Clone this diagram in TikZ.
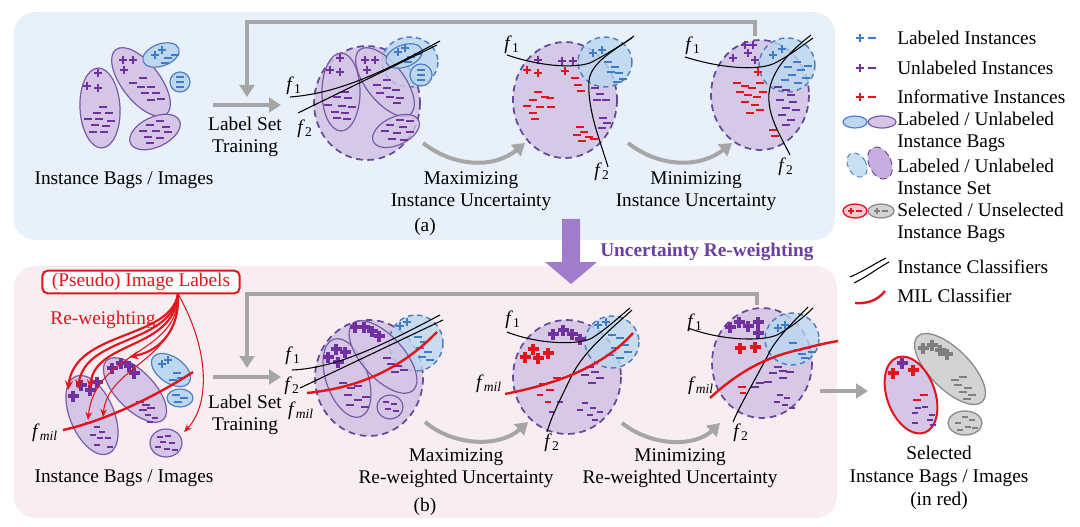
\documentclass[tikz,border=0pt]{standalone}
\usepackage{fontspec}
\setmainfont{Liberation Serif}
\usetikzlibrary{arrows.meta}
\definecolor{panelblue}{HTML}{E8F1F9}
\definecolor{panelpink}{HTML}{F8EEF1}
\definecolor{bagfill}{HTML}{D5C5E6}
\definecolor{bagline}{HTML}{7A5AA8}
\definecolor{ppl}{HTML}{7030A0}
\definecolor{bpl}{HTML}{3E7CC8}
\definecolor{bfill}{HTML}{BCD7EF}
\definecolor{bline}{HTML}{4F7FC4}
\definecolor{rpl}{HTML}{E3141C}
\definecolor{setfill}{HTML}{CFC0E2}
\definecolor{setline}{HTML}{65489A}
\definecolor{arrgray}{HTML}{A6A6A6}
\definecolor{ttl}{HTML}{6B3FA0}
\definecolor{bigarr}{HTML}{A07DCC}
\definecolor{gbag}{HTML}{D3D3D3}
\definecolor{gline}{HTML}{8C8C8C}
\definecolor{gpl}{HTML}{7F7F7F}
\definecolor{selpink}{HTML}{F4C9D2}
\definecolor{legpur}{HTML}{B89BD8}
\newcommand\Pts[3]{\foreach \x/\y in {#3}{\pic[color=#1] at (\x,\y) {#2};}}
\newcommand\fsub[1]{\textit{f}\textsubscript{#1}}
\begin{document}
\begin{tikzpicture}[x=0.75pt,y=-0.75pt,
  txt/.style={font=\fontsize{14.5}{16.5}\selectfont, align=center, inner sep=0pt},
  bagP/.style={fill=bagfill, draw=bagline, line width=0.9pt},
  bagPi/.style={fill=bagfill, fill opacity=0.75, draw=bagline, line width=0.9pt},
  bagB/.style={fill=bfill, draw=bline, line width=0.9pt},
  setP/.style={fill=setfill, fill opacity=0.8, draw=setline, line width=1.3pt, dash pattern=on 5pt off 3.5pt},
  setB/.style={fill=bfill, fill opacity=0.8, draw=bline, line width=1.1pt, dash pattern=on 4pt off 3pt},
  garrow/.style={draw=arrgray, line width=3pt, -{Triangle[length=9pt,width=11pt]}},
  clf/.style={draw=black, line width=0.8pt},
  mil/.style={draw=rpl, line width=1.8pt},
  ra/.style={draw=rpl, line width=1.6pt, -{Stealth[length=7pt,width=6pt]}},
  rb/.style={draw=rpl, line width=0.8pt, -{Stealth[length=6pt,width=5pt]}},
  pics/P/.style={code={\draw[line width=1.8pt] (-4,0)--(4,0) (0,-4)--(0,4);}},
  pics/M/.style={code={\draw[line width=1.8pt] (-4,0)--(4,0);}},
  pics/BP/.style={code={\draw[line width=3pt] (-5.5,0)--(5.5,0) (0,-5.5)--(0,5.5);}},
  pics/SM/.style={code={\draw[line width=1.1pt] (-3.2,0)--(3.2,0);}},
  pics/SP/.style={code={\draw[line width=0.9pt] (-3,0)--(3,0) (0,-3)--(0,3);}},
]
\useasboundingbox (0,0) rectangle (1080,527);
% panels
\fill[panelblue, rounded corners=16pt] (14,12) rectangle (835,240);
\fill[panelpink, rounded corners=16pt] (14,266) rectangle (837,518);

% ================= TOP ROW =================
\coordinate (fbA) at (755,36);
\coordinate (fbB) at (247,97);
\draw[garrow] (fbA) -- (755,22) -| (fbB);
\coordinate (trA) at (213,105);
\coordinate (trB) at (281,105);
\draw[garrow] (trA) -- (trB);
\node[txt] (lst1) at (245,137) {Label Set\\Training};
\node[txt] (ib1) at (124,180) {Instance Bags / Images};
\node[txt] (max1) at (471,191) {Maximizing\\Instance Uncertainty};
\node[txt] (min1) at (696,191) {Minimizing\\Instance Uncertainty};
\node[txt] (lab) at (425,227) {(a)};

% top-left bags
\draw[bagP, rotate around={3:(100,108)}] (100,108) ellipse [x radius=20, y radius=40];
\draw[bagP, rotate around={-52:(141,82)}] (141,82) ellipse [x radius=41, y radius=19];
\draw[bagB, rotate around={20:(161,55)}] (161,55) ellipse [x radius=19, y radius=11];
\draw[bagB] (180,82) circle [radius=10];
\draw[bagP, rotate around={25:(155,132)}] (155,132) ellipse [x radius=27, y radius=15];
\Pts{ppl}{P}{98/73,87/86,98/88}
\Pts{ppl}{M}{103/107,97/113,109/113,88/119,99/119,111/121,95/125,106/126,93/132,104/132}
\Pts{ppl}{P}{123/60,133/60,124/70}
\Pts{ppl}{M}{143/78,133/83,141/87,151/87,145/93,156/93,161/99,151/100}
\Pts{bpl}{P}{155/55,162/50}
\Pts{bpl}{M}{168/58,175/55,165/63}
\Pts{bpl}{M}{180/77,180/82,180/87}
\Pts{ppl}{M}{160/121,150/125,166/127,143/131,156/131,168/132,148/137,160/138,150/143}

% stage 1 top
\draw[setP] (367,103) ellipse [x radius=53, y radius=57];
\draw[setB] (410,62) ellipse [x radius=28, y radius=25];
\draw[bagPi] (341,92) ellipse [x radius=19, y radius=39];
\draw[bagPi, rotate around={-52:(385,82)}] (385,82) ellipse [x radius=41, y radius=19];
\draw[bagPi, rotate around={25:(396,131)}] (396,131) ellipse [x radius=25, y radius=14];
\draw[bagB, fill opacity=0.8, rotate around={20:(404,56)}] (404,56) ellipse [x radius=19, y radius=11];
\draw[bagB, fill opacity=0.8] (421,75) circle [radius=11];
\Pts{ppl}{P}{340/58,330/70,340/72}
\Pts{ppl}{M}{345/92,337/97,348/98,328/105,342/106,352/107,335/112,345/113,337/118,347/119}
\Pts{ppl}{P}{365/60,375/60,367/70}
\Pts{ppl}{M}{387/80,377/85,387/88,396/90,380/93,390/97,400/98,397/103}
\Pts{ppl}{M}{400/120,410/121,390/125,403/127,385/131,397/133,410/132,392/139,404/140}
\Pts{bpl}{P}{398/52,405/48}
\Pts{bpl}{M}{411/57,418/54,408/62}
\Pts{bpl}{M}{421/70,421/75,421/80}
\draw[clf] (290,97) .. controls (345,93) and (395,65) .. (440,41);
\draw[clf] (298,113) -- (437,45);
\node[txt] (f1a) at (294,86) {\fsub{1}};
\node[txt] (f2a) at (305,129) {\fsub{2}};
\coordinate (c1a) at (423,143);
\coordinate (c1b) at (525,143);
\draw[garrow] (c1a) .. controls (455,168) and (495,168) .. (c1b);

% stage 2 top
\draw[setP] (565,100) ellipse [x radius=52, y radius=58];
\draw[setB] (605,62) ellipse [x radius=27, y radius=25];
\Pts{rpl}{P}{527/70,538/73,565/71}
\Pts{ppl}{P}{538/60,562/61,573/61}
\Pts{bpl}{P}{593/53,602/50}
\Pts{bpl}{M}{608/62,615/67,619/73,623/79,611/72,617/82}
\Pts{rpl}{M}{538/92,545/97,533/100,550/98,527/106,540/107,551/107,533/113,535/119}
\Pts{rpl}{M}{575/78,578/85,581/91}
\Pts{ppl}{M}{595/88,600/94,597/100,606/100}
\Pts{rpl}{M}{580/127,584/132,577/135,589/137,582/141,594/139}
\Pts{ppl}{M}{603/118,607/123,602/128}
\draw[clf] (507,55) .. controls (545,68) and (580,68) .. (592,62) .. controls (605,55) and (620,46) .. (632,38);
\draw[clf] (634,36) .. controls (612,52) and (592,62) .. (589,80) .. controls (587,110) and (600,140) .. (608,167);
\node[txt] (f1b) at (512,45) {\fsub{1}};
\node[txt] (f2b) at (602,172) {\fsub{2}};
\coordinate (c2a) at (628,143);
\coordinate (c2b) at (732,143);
\draw[garrow] (c2a) .. controls (660,168) and (700,168) .. (c2b);

% stage 3 top
\draw[setP] (760,95) ellipse [x radius=49, y radius=55];
\draw[setB] (787,65) ellipse [x radius=28, y radius=27];
\Pts{ppl}{P}{745/45,753/45,733/58,748/53,755/60}
\Pts{rpl}{P}{758/72}
\Pts{bpl}{P}{773/55,782/49}
\Pts{bpl}{M}{788/67,797/62,801/70,792/75,806/78,798/83,785/80,808/66}
\Pts{rpl}{M}{737/83,745/86,752/88,740/92,748/95,757/97,745/102,755/105,760/110,750/113,763/92,760/83}
\Pts{ppl}{M}{778/87,786/90,791/95,780/100,793/102,786/108,796/110,782/115,791/120,786/125}
\Pts{rpl}{M}{773/130,775/136}
\draw[clf] (685,57) .. controls (720,68) and (760,72) .. (777,62) .. controls (790,55) and (802,46) .. (813,38);
\draw[clf] (811,35) .. controls (792,50) and (772,68) .. (769,93) .. controls (767,115) and (780,135) .. (790,155);
\node[txt] (f1c) at (693,46) {\fsub{1}};
\node[txt] (f2c) at (786,167) {\fsub{2}};

% ================= LEGEND =================
\Pts{bpl}{P}{860/38} \Pts{bpl}{M}{872/38}
\Pts{ppl}{P}{860/68} \Pts{ppl}{M}{872/68}
\Pts{rpl}{P}{860/97} \Pts{rpl}{M}{872/97}
\node[txt, anchor=west] (lg1) at (897,38) {Labeled Instances};
\node[txt, anchor=west] (lg2) at (897,68) {Unlabeled Instances};
\node[txt, anchor=west] (lg3) at (897,97) {Informative Instances};
\draw[bagB] (855,122) ellipse [x radius=12, y radius=6];
\draw[bagP] (882,122) ellipse [x radius=14, y radius=6];
\node[txt, anchor=west, align=left] (lg4) at (897,132) {Labeled / Unlabeled\\Instance Bags};
\draw[setB, line width=0.7pt, rotate around={30:(857,165)}] (857,165) ellipse [x radius=9, y radius=13];
\draw[setP, fill=legpur, line width=0.7pt, rotate around={25:(880,163)}] (880,163) ellipse [x radius=11, y radius=17];
\node[txt, anchor=west, align=left] (lg5) at (897,177) {Labeled / Unlabeled\\Instance Set};
\draw[fill=selpink, draw=rpl, line width=1pt] (855,211) ellipse [x radius=12, y radius=7];
\Pts{rpl}{SP}{851/211} \Pts{rpl}{SM}{859/211}
\draw[fill=gbag, draw=gline, line width=1pt] (881,211) ellipse [x radius=13, y radius=7];
\Pts{gpl}{SP}{877/211} \Pts{gpl}{SM}{885/211}
\node[txt, anchor=west, align=left] (lg6) at (897,223) {Selected / Unselected\\Instance Bags};
\draw[clf] (850,277) .. controls (864,271) and (874,264) .. (886,258);
\draw[clf] (854,283) .. controls (868,276) and (878,268) .. (889,262);
\node[txt, anchor=west] (lg7) at (897,267) {Instance Classifiers};
\draw[mil] (855,303) .. controls (868,304) and (878,300) .. (885,291);
\node[txt, anchor=west] (lg8) at (897,296) {MIL Classifier};

% ================= MIDDLE ARROW =================
\fill[bigarr] (562,219) -- (580,219) -- (580,262) -- (597,262) -- (571,284) -- (545,262) -- (562,262) -- cycle;
\node[txt, font=\fontsize{14.5}{16.5}\selectfont\bfseries, text=ttl, anchor=west] (urw) at (600,252) {Uncertainty Re-weighting};

% ================= BOTTOM ROW =================
\coordinate (fbC) at (757,305);
\coordinate (fbD) at (247,368);
\draw[garrow] (fbC) -- (757,294) -| (fbD);
\coordinate (trC) at (213,377);
\coordinate (trD) at (281,377);
\draw[garrow] (trC) -- (trD);
\node[txt] (lst2) at (245,415) {Label Set\\Training};
\node[txt] (ib2) at (124,478) {Instance Bags / Images};
\node[txt] (max2) at (456,468) {Maximizing\\Re-weighted Uncertainty};
\node[txt] (min2) at (680,468) {Minimizing\\Re-weighted Uncertainty};
\node[txt] (lbb) at (425,507) {(b)};

\node[txt, draw=rpl, text=rpl, line width=1.5pt, rounded corners=4pt, fill=white, minimum width=148pt, minimum height=17pt] (pil) at (141,282) {(Pseudo) Image Labels};
\node[txt, text=rpl] (rw) at (103,320) {Re-weighting};

% bottom-left bags
\draw[bagP, rotate around={23:(92,415)}] (92,415) ellipse [x radius=22, y radius=42];
\draw[bagP, rotate around={-46:(135,390)}] (135,390) ellipse [x radius=41, y radius=19];
\draw[bagB, rotate around={-35:(171,370)}] (171,370) ellipse [x radius=22, y radius=13];
\draw[bagB] (180,398) ellipse [x radius=13, y radius=9];
\draw[bagP] (166,443) ellipse [x radius=16, y radius=14];
\Pts{ppl}{BP}{73/396,81/385,90/390,97/382}
\Pts{ppl}{SM}{88/423,97/427,102/432,93/435,100/438,108/438,97/445,110/447}
\Pts{ppl}{BP}{112/368,121/363,129/366,134/373}
\Pts{ppl}{M}{140/402,146/405,143/410,151/408}
\Pts{ppl}{SM}{148/415,155/418,150/422}
\Pts{bpl}{P}{162/364,168/360}
\Pts{bpl}{M}{177/373,181/378,173/380}
\Pts{bpl}{M}{176/395,184/398,178/402}
\Pts{ppl}{SM}{160/437,168/436,163/442,172/443,158/447,167/449,175/450}
\draw[mil] (63,430) .. controls (100,422) and (150,400) .. (193,372);
\node[txt] (fm0) at (45,433) {\fsub{\textit{mil}}};
\coordinate (src) at (178,294);
\draw[ra] (src) .. controls (170,340) and (75,330) .. (68,390);
\draw[ra] (src) .. controls (172,345) and (85,335) .. (78,389);
\draw[ra] (src) .. controls (175,350) and (95,340) .. (90,389);
\draw[rb] (src) .. controls (180,355) and (95,350) .. (88,420);
\draw[rb] (src) .. controls (182,360) and (108,365) .. (103,417);
\draw[ra] (src) .. controls (180,335) and (155,352) .. (129,357);
\draw[rb] (src) .. controls (210,350) and (210,405) .. (184,432);

% stage 1 bottom
\draw[setP] (369,378) ellipse [x radius=54, y radius=58];
\draw[setB] (416,343) ellipse [x radius=27, y radius=28];
\draw[bagPi, rotate around={19:(347,378)}] (347,378) ellipse [x radius=21, y radius=41];
\draw[bagPi, rotate around={-48:(383,357)}] (383,357) ellipse [x radius=45, y radius=21];
\draw[bagPi] (390,407) ellipse [x radius=13, y radius=12];
\Pts{ppl}{BP}{328/357,336/349,345/352,338/362}
\Pts{ppl}{BP}{355/327,364/327,372/331,379/336}
\Pts{ppl}{M}{343/383,351/388,358/386,348/395,358/400,366/397,350/405,365/407}
\Pts{ppl}{M}{387/358,391/364,398/366,395/372,404/370}
\Pts{ppl}{SM}{386/402,394/404,388/409,396/411}
\Pts{bpl}{P}{400/326,407/322}
\Pts{bpl}{M}{418/337,424/342,420/348,428/352,422/357,430/360}
\draw[clf] (292,370) .. controls (340,368) and (392,340) .. (440,315);
\draw[clf] (300,388) -- (443,320);
\draw[mil] (307,393) .. controls (355,388) and (398,372) .. (437,332);
\node[txt] (f1d) at (293,356) {\fsub{1}};
\node[txt] (f2d) at (292,386) {\fsub{2}};
\node[txt] (fmd) at (301,411) {\fsub{\textit{mil}}};
\coordinate (c3a) at (425,422);
\coordinate (c3b) at (528,422);
\draw[garrow] (c3a) .. controls (455,447) and (500,447) .. (c3b);

% stage 2 bottom
\draw[setP] (567,377) ellipse [x radius=54, y radius=57];
\draw[setB] (612,342) ellipse [x radius=27, y radius=26];
\Pts{rpl}{BP}{525/357,533/349,538/358,548/353}
\Pts{ppl}{BP}{553/334,563/330,572/334,580/339}
\Pts{bpl}{P}{598/325,606/322}
\Pts{bpl}{M}{612/335,620/338,625/345,615/348,628/352,620/358,610/355}
\Pts{rpl}{M}{543/384,557/378,550/390}
\Pts{rpl}{SM}{540/395,548/402}
\Pts{ppl}{M}{590/367,595/372,585/375,600/378,592/383}
\Pts{ppl}{SM}{585/403,593/408,580/410,590/415,600/412,595/420,560/402,552/412}
\draw[clf] (507,332) .. controls (540,345) and (580,345) .. (592,338) .. controls (605,330) and (618,318) .. (630,308);
\draw[clf] (632,310) .. controls (610,330) and (585,350) .. (572,375) .. controls (560,400) and (552,415) .. (547,432);
\draw[mil] (505,394) .. controls (550,385) and (600,370) .. (633,333);
\node[txt] (f1e) at (513,320) {\fsub{1}};
\node[txt] (fme) at (489,384) {\fsub{\textit{mil}}};
\node[txt] (f2e) at (552,443) {\fsub{2}};
\coordinate (c4a) at (622,423);
\coordinate (c4b) at (720,423);
\draw[garrow] (c4a) .. controls (652,447) and (695,447) .. (c4b);

% stage 3 bottom
\draw[setP] (762,363) ellipse [x radius=50, y radius=55];
\draw[setB] (792,339) ellipse [x radius=27, y radius=26];
\Pts{ppl}{BP}{730/327,739/322,748/326,758/322,758/333}
\Pts{rpl}{BP}{740/348,755/347}
\Pts{bpl}{P}{778/328,785/325}
\Pts{bpl}{M}{793/343,798/350,807/348,802/354,812/352,805/358}
\Pts{ppl}{M}{778/367,783/371,790/372,773/373,783/378,768/382,760/383,755/387}
\Pts{ppl}{SM}{780/395,787/398,777/402,785/405,792/408}
\Pts{rpl}{M}{742/387}
\Pts{rpl}{SM}{743/393}
\draw[clf] (688,328) .. controls (720,340) and (760,342) .. (777,335) .. controls (790,328) and (803,318) .. (813,308);
\draw[clf] (808,307) .. controls (790,325) and (775,340) .. (768,355) .. controls (755,380) and (740,405) .. (733,422);
\draw[mil] (710,398) .. controls (735,375) and (760,360) .. (790,352) .. controls (810,347) and (825,343) .. (838,341);
\node[txt] (f1f) at (695,323) {\fsub{1}};
\node[txt] (fmf) at (701,386) {\fsub{\textit{mil}}};
\node[txt] (f2f) at (741,433) {\fsub{2}};

% selected bags
\coordinate (exA) at (820,391);
\coordinate (exB) at (868,391);
\draw[garrow] (exA) -- (exB);
\draw[fill=gbag, draw=gline, line width=1pt, rotate around={-45:(950,369)}] (950,369) ellipse [x radius=46, y radius=20];
\draw[fill=gbag, draw=gline, line width=1pt] (965,423) ellipse [x radius=17, y radius=12];
\draw[fill=bagfill, draw=rpl, line width=1.5pt, rotate around={20:(911,395)}] (911,395) ellipse [x radius=24, y radius=40];
\Pts{ppl}{BP}{902/363}
\Pts{rpl}{BP}{893/373,913/370}
\Pts{rpl}{M}{917/400,924/395}
\Pts{ppl}{SM}{918/408,925/407,915/413,932/415,930/420,933/425,915/423}
\Pts{gpl}{BP}{923/348,932/345,940/350,947/354}
\Pts{gpl}{M}{955/380,963/377,958/385,968/388,963/392,972/395,967/399}
\Pts{gpl}{SM}{965/417,972/420,958/423,968/427,960/430,975/428}
\node[txt, font=\fontsize{14.5}{17}\selectfont] (sel) at (939,478) {Selected\\Instance Bags / Images\\(in red)};
\end{tikzpicture}
\end{document}
